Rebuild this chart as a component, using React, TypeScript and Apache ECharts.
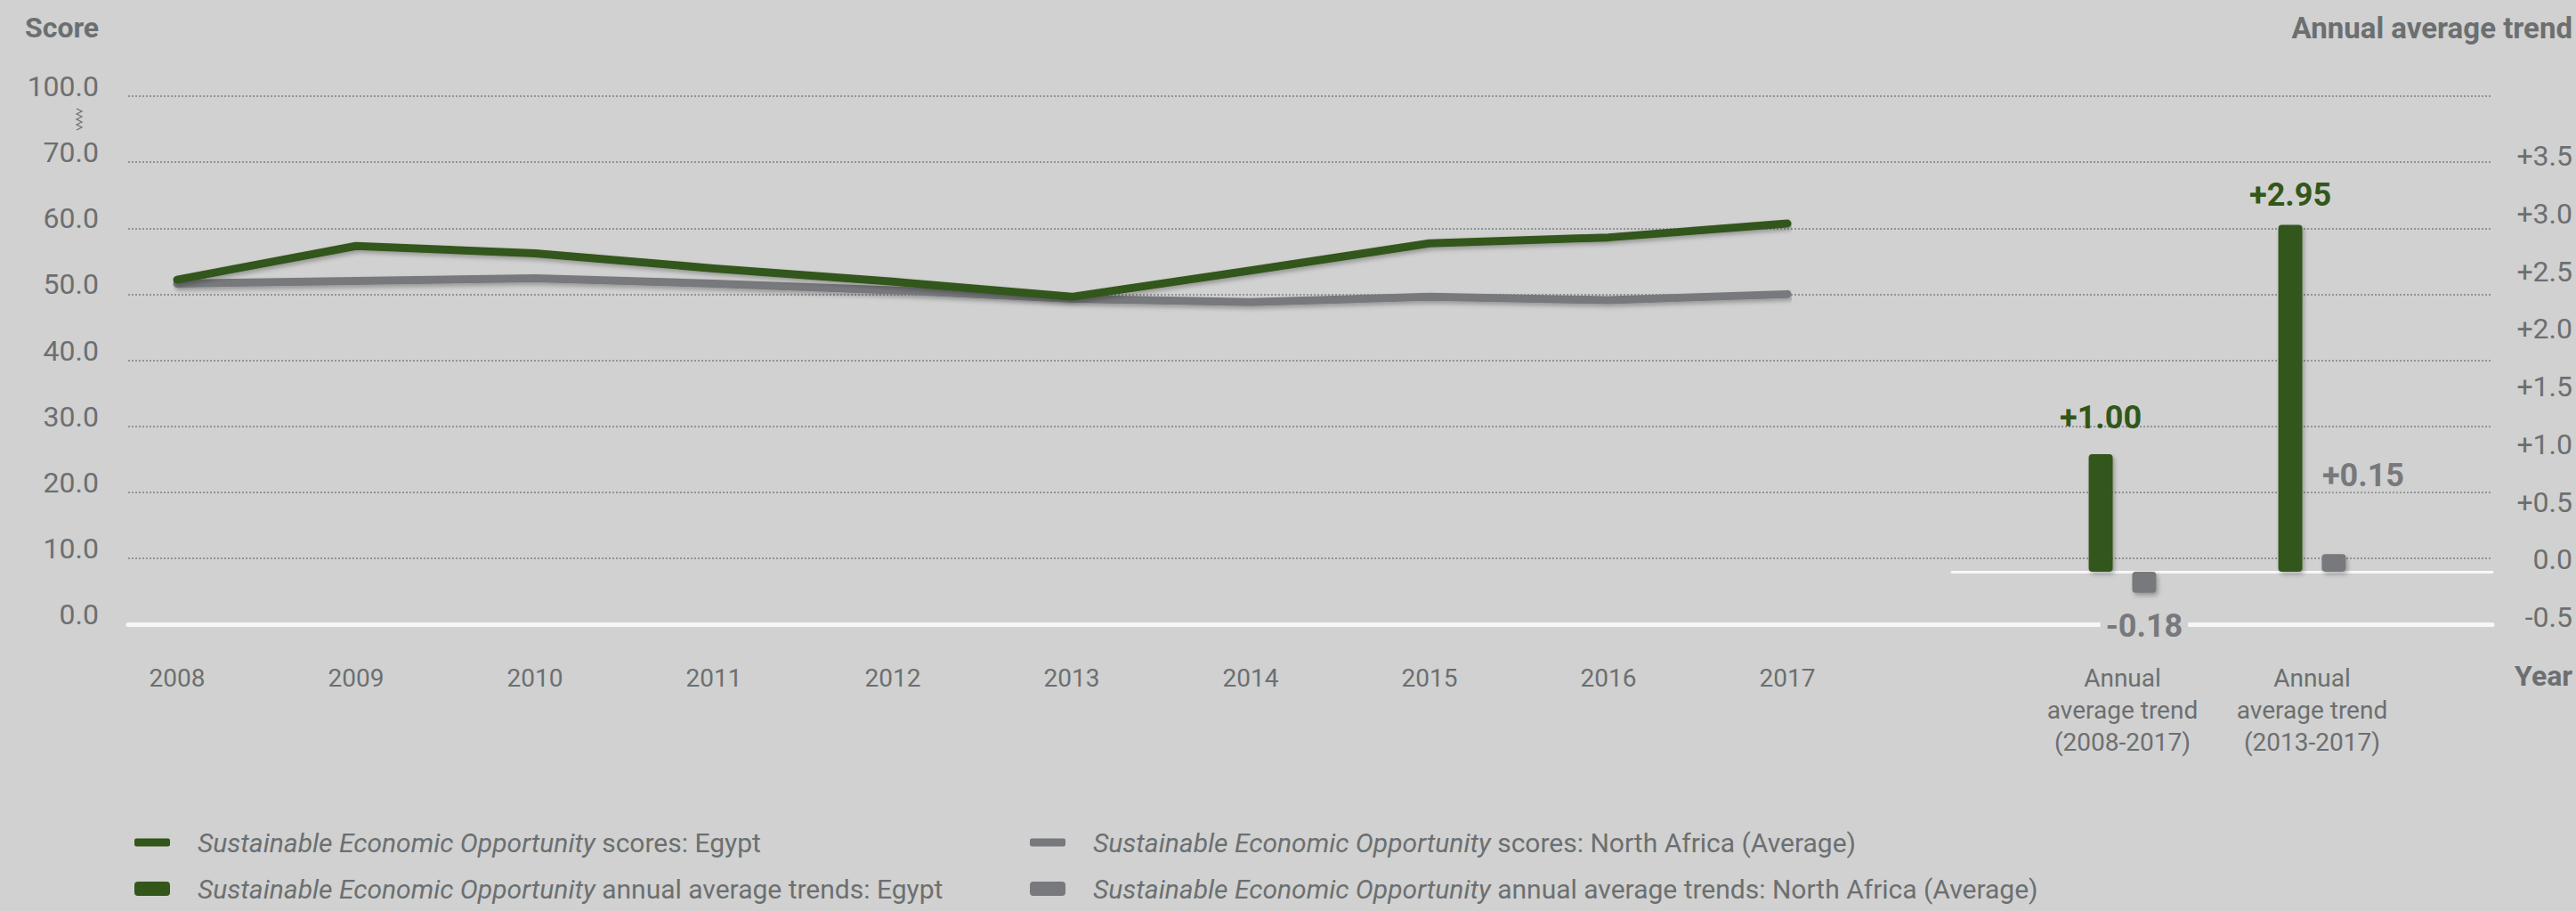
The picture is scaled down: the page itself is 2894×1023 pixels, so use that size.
import React, { useEffect, useRef } from "react";
import * as echarts from "echarts";

const years = ["2008", "2009", "2010", "2011", "2012", "2013", "2014", "2015", "2016", "2017"];
const egyptScores = [52.2, 57.3, 56.2, 53.9, 51.9, 49.6, 53.6, 57.7, 58.6, 60.7];
const northAfricaScores = [51.6, 52.0, 52.4, 51.6, 50.6, 49.3, 48.8, 49.6, 49.1, 50.0];

const trendCategories = ["Annual\naverage trend\n(2008-2017)", "Annual\naverage trend\n(2013-2017)"];
const egyptTrends = [1.0, 2.95];
const northAfricaTrends = [-0.18, 0.15];

const scoreTicks = [0, 10, 20, 30, 40, 50, 60, 70, 80];
const scoreTickLabels = ["0.0", "10.0", "20.0", "30.0", "40.0", "50.0", "60.0", "70.0", "100.0"];

const GREEN = "#33561a";
const GRAY = "#77797c";
const BG = "#d0d1d0";
const TEXT = "#6c6f71";
const FONT = "Roboto, 'Noto Sans', sans-serif";

const N_EG_S = "egScores";
const N_NA_S = "naScores";
const N_EG_T = "egTrends";
const N_NA_T = "naTrends";
const legendSuffix: Record<string, string> = {
  egScores: " scores: Egypt",
  naScores: " scores: North Africa (Average)",
  egTrends: " annual average trends: Egypt",
  naTrends: " annual average trends: North Africa (Average)",
};

const shadow = {
  shadowColor: "rgba(0,0,0,0.28)",
  shadowBlur: 5,
  shadowOffsetX: 2,
  shadowOffsetY: 3,
};

function fmtTrend(v: number) {
  return v > 0 ? "+" + v.toFixed(2) : v.toFixed(2);
}

function makeLegend(name: string, left: number, top: number, h: number) {
  return {
    data: [{ name }],
    left,
    top,
    orient: "horizontal",
    padding: 0,
    icon: "roundRect",
    itemWidth: 40,
    itemHeight: h,
    selectedMode: false,
    itemStyle: { borderWidth: 0 },
    formatter: (n: string) => "{sp| }{i|Sustainable Economic Opportunity}{n|" + legendSuffix[n] + "}",
    textStyle: {
      rich: {
        sp: { width: 26, fontSize: 30 },
        i: { fontStyle: "italic", fontSize: 30, color: TEXT, fontFamily: FONT },
        n: { fontSize: 30, color: TEXT, fontFamily: FONT },
      },
    },
  };
}

export default function App() {
  const ref = useRef<HTMLDivElement>(null);

  useEffect(() => {
    if (!ref.current) return;
    const chart = echarts.init(ref.current, undefined, { renderer: "svg" });

    const zig: number[][] = [];
    for (let i = 0; i <= 8; i++) {
      zig.push([i % 2 === 0 ? 86 : 92, 122 + i * 3]);
    }

    const option: any = {
      animation: false,
      backgroundColor: BG,
      textStyle: { fontFamily: FONT },
      title: [
        {
          text: "Score",
          left: 28,
          top: 15,
          padding: 0,
          textStyle: { fontSize: 32, fontWeight: "bold", color: TEXT, fontFamily: FONT },
        },
        {
          text: "Annual average trend",
          right: 4,
          top: 15,
          padding: 0,
          textStyle: { fontSize: 33, fontWeight: "bold", color: TEXT, fontFamily: FONT },
        },
        {
          text: "Year",
          right: 4,
          top: 743,
          padding: 0,
          textStyle: { fontSize: 32, fontWeight: "bold", color: TEXT, fontFamily: FONT },
        },
      ],
      legend: [
        makeLegend(N_EG_S, 151, 931, 9),
        makeLegend(N_EG_T, 151, 983, 16),
        makeLegend(N_NA_S, 1157, 931, 9),
        makeLegend(N_NA_T, 1157, 983, 16),
      ],
      grid: [
        { left: 144, right: 94, top: 108, bottom: 322 },
        { left: 199, right: 886, top: 108, bottom: 322 },
        { left: 2278, right: 190, top: 180, bottom: 315 },
        { left: 2193, right: 94, top: 175, bottom: 330 },
        { left: 2193, right: 94, top: 600, bottom: 381 },
      ],
      xAxis: [
        {
          gridIndex: 0,
          type: "category",
          data: [""],
          axisLine: { show: true, lineStyle: { color: "#f7f7f7", width: 5 } },
          axisTick: { show: false },
          axisLabel: { show: false },
        },
        {
          gridIndex: 1,
          type: "category",
          data: years,
          boundaryGap: false,
          axisLine: { show: false },
          axisTick: { show: false },
          axisLabel: { fontSize: 28, color: TEXT, margin: 46, fontFamily: FONT },
        },
        {
          gridIndex: 2,
          type: "category",
          data: trendCategories,
          axisLine: { show: false, onZero: false },
          axisTick: { show: false },
          axisLabel: { fontSize: 28, lineHeight: 36, color: TEXT, margin: 35, fontFamily: FONT, interval: 0 },
        },
        {
          gridIndex: 3,
          type: "category",
          data: [""],
          show: false,
        },
        {
          gridIndex: 4,
          type: "category",
          data: [""],
          axisLine: { show: true, lineStyle: { color: "#f7f7f7", width: 3 } },
          axisTick: { show: false },
          axisLabel: { show: false },
        },
      ],
      yAxis: [
        {
          gridIndex: 0,
          type: "value",
          min: 0,
          max: 80,
          interval: 10,
          axisLine: { show: false },
          axisTick: { show: false },
          splitLine: { show: true, lineStyle: { color: "#919496", type: [2, 2], width: 2 } },
          axisLabel: {
            fontSize: 32,
            color: TEXT,
            margin: 33,
            fontFamily: FONT,
            verticalAlign: "bottom",
            lineHeight: 22,
            formatter: (v: number) => {
              const idx = scoreTicks.indexOf(v);
              return idx >= 0 ? scoreTickLabels[idx] : "";
            },
          },
        },
        { gridIndex: 1, type: "value", min: 0, max: 80, show: false },
        { gridIndex: 2, type: "value", min: -0.5, max: 3.5, show: false },
        {
          gridIndex: 3,
          type: "value",
          position: "right",
          min: -0.5,
          max: 3.5,
          interval: 0.5,
          axisLine: { show: false },
          axisTick: { show: false },
          splitLine: { show: false },
          axisLabel: {
            fontSize: 32,
            color: TEXT,
            margin: 90,
            align: "right",
            fontFamily: FONT,
            formatter: (v: number) => (v > 0 ? "+" + v.toFixed(1) : v.toFixed(1)),
          },
        },
        { gridIndex: 4, type: "value", min: 0, max: 1, show: false },
      ],
      series: [
        {
          name: N_NA_S,
          type: "line",
          xAxisIndex: 1,
          yAxisIndex: 1,
          data: northAfricaScores,
          symbol: "none",
          color: GRAY,
          lineStyle: { width: 9, color: GRAY, cap: "round", join: "round", ...shadow },
          z: 3,
        },
        {
          name: N_EG_S,
          type: "line",
          xAxisIndex: 1,
          yAxisIndex: 1,
          data: egyptScores,
          symbol: "none",
          color: GREEN,
          lineStyle: { width: 9, color: GREEN, cap: "round", join: "round", ...shadow },
          z: 4,
        },
        {
          name: N_EG_T,
          type: "bar",
          xAxisIndex: 2,
          yAxisIndex: 2,
          data: egyptTrends.map((v, i) => ({
            value: v,
            label: { distance: i === 0 ? 23 : 16 },
          })),
          color: GREEN,
          barWidth: 27,
          barGap: "81%",
          itemStyle: { color: GREEN, borderRadius: 4, ...shadow },
          label: {
            show: true,
            position: "top",
            fontSize: 36,
            fontWeight: "bold",
            color: GREEN,
            fontFamily: FONT,
            formatter: (p: any) => fmtTrend(p.value),
          },
          z: 5,
        },
        {
          name: N_NA_T,
          type: "bar",
          xAxisIndex: 2,
          yAxisIndex: 2,
          color: GRAY,
          barWidth: 27,
          barGap: "81%",
          itemStyle: { color: GRAY, borderRadius: 4, ...shadow },
          data: northAfricaTrends.map((v) => ({
            value: v,
            label:
              v < 0
                ? { position: "bottom", distance: 19, offset: [0, 0] }
                : { position: "top", distance: 70, offset: [33, 0] },
          })),
          label: {
            show: true,
            fontSize: 36,
            fontWeight: "bold",
            color: GRAY,
            fontFamily: FONT,
            backgroundColor: BG,
            padding: [0, 6],
            formatter: (p: any) => fmtTrend(p.value),
          },
          z: 5,
        },
      ],
      graphic: [
        {
          type: "polyline",
          shape: { points: zig },
          style: { stroke: TEXT, lineWidth: 1.2, fill: null },
        },
      ],
    };

    chart.setOption(option);
    return () => chart.dispose();
  }, []);

  return (
    <div
      ref={ref}
      style={{ position: "fixed", left: 0, top: 0, width: 2894, height: 1023 }}
    />
  );
}
